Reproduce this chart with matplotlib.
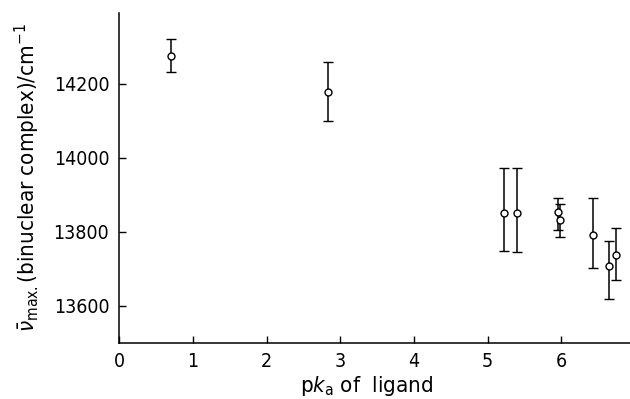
import matplotlib.pyplot as plt
import numpy as np

plt.rcParams['font.family'] = ['DejaVu Sans']
plt.rcParams['font.stretch'] = 'condensed'

# pKa of ligand vs nu_max of binuclear complex
pka = [0.70, 2.83, 5.22, 5.40, 5.95, 5.98, 6.43, 6.65, 6.74]
numax = [14275, 14176, 13850, 13850, 13853, 13831, 13790, 13706, 13736]
err_lo = [43, 78, 101, 105, 48, 46, 87, 87, 67]
err_hi = [45, 83, 122, 122, 38, 43, 101, 68, 74]

xticks = [0, 1, 2, 3, 4, 5, 6]
yticks = [13600, 13800, 14000, 14200]

fig = plt.figure(figsize=(6.3, 3.99), dpi=100)
ax = fig.add_axes([0.189, 0.141, 0.811, 0.826])

ax.errorbar(pka, numax, yerr=[err_lo, err_hi], fmt='o', color='black',
            mfc='white', mec='black', ms=5, mew=1.0, elinewidth=1.1,
            capsize=3.5, capthick=1.3, zorder=3)

ax.set_xlim(0, 6.93)
ax.set_ylim(13500, 14390)
ax.set_xticks(xticks)
ax.set_yticks(yticks)
ax.tick_params(direction='in', length=5, width=1, labelsize=14)
ax.tick_params(axis='x', pad=7)
ax.tick_params(axis='y', pad=7)

for s in ['top', 'right']:
    ax.spines[s].set_visible(False)
for s in ['left', 'bottom']:
    ax.spines[s].set_linewidth(1.1)

ax.set_xlabel(r'p$k_{\mathrm{a}}$ of  ligand', fontsize=16)
ax.xaxis.set_label_coords(0.485, -0.095)
ax.set_ylabel(r'$\bar{\nu}_{\mathrm{max.}}$(binuclear complex)/cm$^{-1}$', fontsize=16)
ax.yaxis.set_label_coords(-0.15, 0.5)

fig.savefig('out.png', dpi=100)
